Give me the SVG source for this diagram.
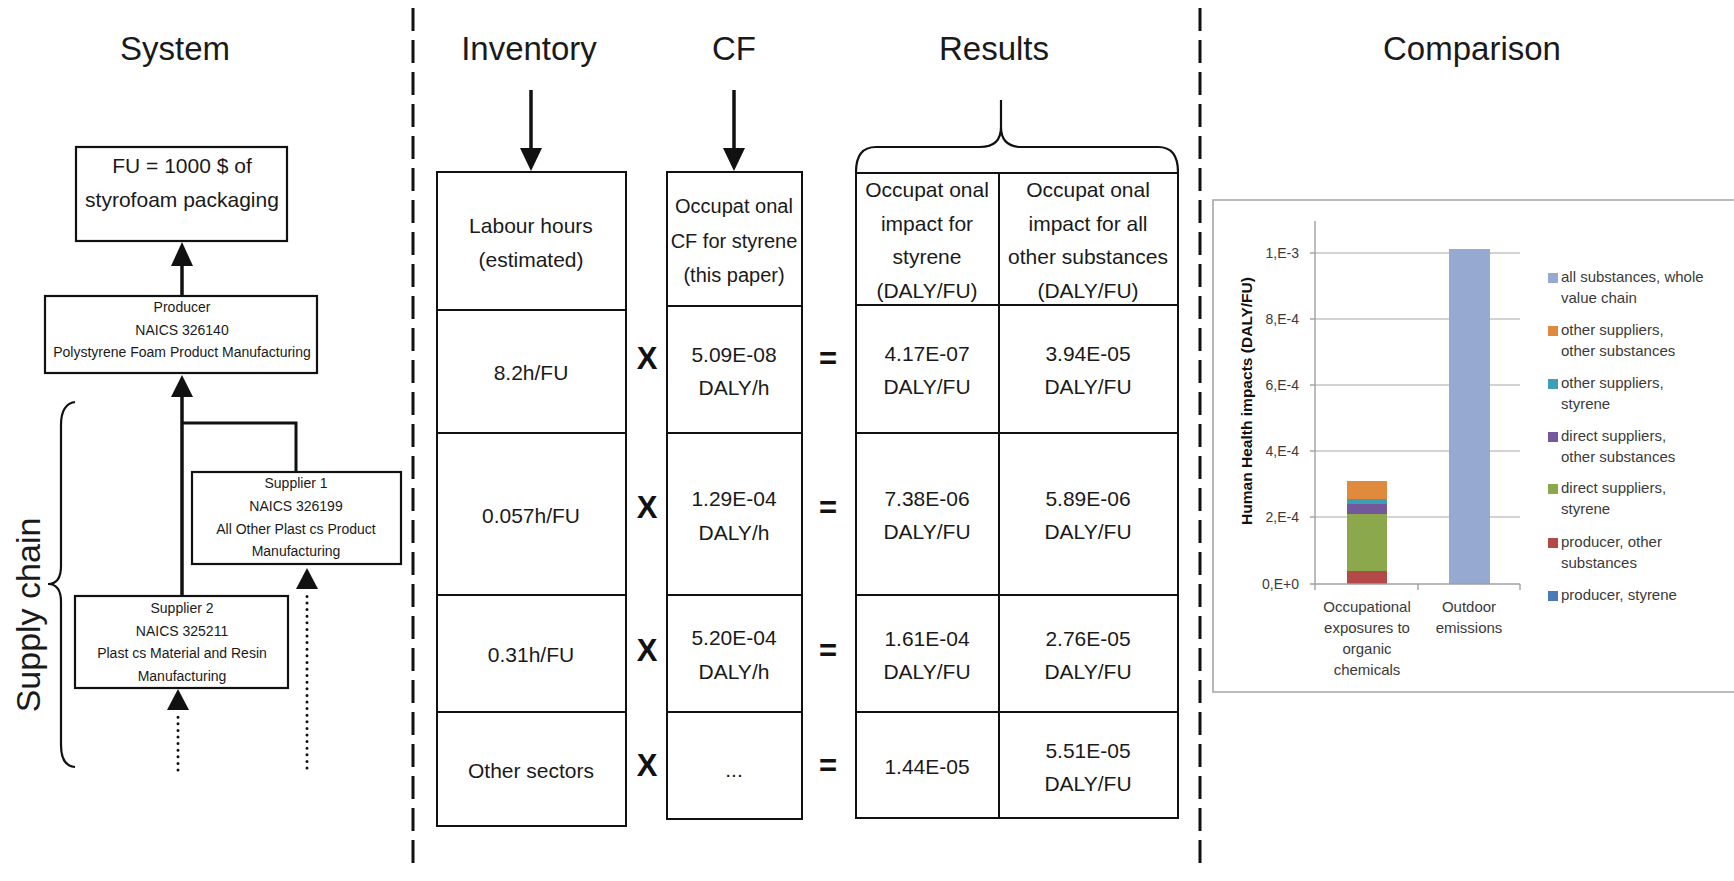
<svg xmlns="http://www.w3.org/2000/svg" width="1734" height="881" viewBox="0 0 1734 881">
  <style>
    text { font-family: "Liberation Sans", Arial, sans-serif; fill: #1a1a1a; }
    .title { font-size: 33px; text-anchor: middle; }
    .node-box { fill: #ffffff; stroke: #111111; stroke-width: 2.2; }
    .node-sm { font-size: 14px; text-anchor: middle; }
    .node-lg { font-size: 21px; text-anchor: middle; }
    .cell { font-size: 21px; text-anchor: middle; }
    .cell-n { font-size: 20px; text-anchor: middle; }
    .tbl { fill: #ffffff; stroke: #111111; stroke-width: 2; }
    .rule { stroke: #111111; stroke-width: 2; fill: none; }
    .op { font-size: 31px; font-weight: bold; text-anchor: middle; fill: #111111; }
    .flow { stroke: #111111; stroke-width: 3.5; fill: none; }
    .dotted { stroke: #111111; stroke-width: 3; stroke-dasharray: 0 6.6; stroke-linecap: round; fill: none; }
    .head { fill: #111111; }
    .brace { stroke: #111111; stroke-width: 2.2; fill: none; }
    .divider { stroke: #111111; stroke-width: 3; stroke-dasharray: 23 9; fill: none; }
    .frame { stroke: #a6a6a6; stroke-width: 1.6; fill: #ffffff; }
    .grid { stroke: #c4c4c4; stroke-width: 1.4; }
    .axis { stroke: #a0a0a0; stroke-width: 1.4; }
    .tick { font-size: 14px; text-anchor: end; fill: #3a3a3a; }
    .cat { font-size: 15px; text-anchor: middle; fill: #3a3a3a; }
    .leg { font-size: 15px; fill: #3a3a3a; }
  </style>

  <!-- section dividers -->
  <g id="dividers">
    <line class="divider" x1="413" y1="8" x2="413" y2="870"/>
    <line class="divider" x1="1200" y1="8" x2="1200" y2="870"/>
  </g>

  <!-- column titles -->
  <g id="titles">
    <text class="title" x="175" y="60">System</text>
    <text class="title" x="529" y="60">Inventory</text>
    <text class="title" x="734" y="60">CF</text>
    <text class="title" x="994" y="60">Results</text>
    <text class="title" x="1472" y="60">Comparison</text>
  </g>

  <!-- system nodes -->
  <g id="node-fu">
    <rect class="node-box" x="76" y="147" width="211" height="94"/>
    <text class="node-lg" x="182" y="173">FU = 1000 $ of</text>
    <text class="node-lg" x="182" y="207">styrofoam packaging</text>
  </g>
  <g id="node-producer">
    <rect class="node-box" x="45" y="296" width="272" height="77"/>
    <text class="node-sm" x="182" y="312">Producer</text>
    <text class="node-sm" x="182" y="335">NAICS 326140</text>
    <text class="node-sm" x="182" y="357">Polystyrene Foam Product Manufacturing</text>
  </g>
  <g id="node-supplier1">
    <rect class="node-box" x="192" y="472" width="209" height="92"/>
    <text class="node-sm" x="296" y="488">Supplier 1</text>
    <text class="node-sm" x="296" y="511">NAICS 326199</text>
    <text class="node-sm" x="296" y="534">All Other Plast cs Product</text>
    <text class="node-sm" x="296" y="556">Manufacturing</text>
  </g>
  <g id="node-supplier2">
    <rect class="node-box" x="75" y="596" width="213" height="92"/>
    <text class="node-sm" x="182" y="613">Supplier 2</text>
    <text class="node-sm" x="182" y="636">NAICS 325211</text>
    <text class="node-sm" x="182" y="658">Plast cs Material and Resin</text>
    <text class="node-sm" x="182" y="681">Manufacturing</text>
  </g>

  <!-- supply chain brace and label -->
  <g id="supply-chain">
    <path class="brace" d="M75,402 Q61,404 61,425 V566 Q61,584 48,584 Q61,584 61,602 V745 Q61,766 75,767"/>
    <text x="40" y="615" transform="rotate(-90 40 615)" style="font-size:34px;text-anchor:middle">Supply chain</text>
  </g>

  <!-- connectors -->
  <g id="connectors">
    <line class="flow" x1="182" y1="296" x2="182" y2="264"/>
    <polygon class="head" points="171,266 193,266 182,242"/>
    <line class="flow" x1="182" y1="596" x2="182" y2="395"/>
    <polygon class="head" points="171,397 193,397 182,375"/>
    <path class="flow" d="M296,472 V423 H182" style="stroke-width:3"/>
    <line class="dotted" x1="307" y1="768" x2="307" y2="592"/>
    <polygon class="head" points="296,589 318,589 307,568"/>
    <line class="dotted" x1="178" y1="770" x2="178" y2="713"/>
    <polygon class="head" points="167,710 189,710 178,689"/>
    <line class="flow" x1="531" y1="90" x2="531" y2="150"/>
    <polygon class="head" points="520,148 542,148 531,171"/>
    <line class="flow" x1="734" y1="90" x2="734" y2="150"/>
    <polygon class="head" points="723,148 745,148 734,171"/>
    <path class="brace" d="M1001,100 V127 Q1001,147 980,147 H876 Q856,147 856,172 M1001,127 Q1001,147 1022,147 H1158 Q1178,147 1178,172"/>
  </g>

  <!-- inventory table -->
  <g id="table-inventory">
    <rect class="tbl" x="437" y="172" width="189" height="654"/>
    <line class="rule" x1="437" y1="310" x2="626" y2="310"/>
    <line class="rule" x1="437" y1="433" x2="626" y2="433"/>
    <line class="rule" x1="437" y1="595" x2="626" y2="595"/>
    <line class="rule" x1="437" y1="712" x2="626" y2="712"/>
    <text class="cell" x="531" y="233">Labour hours</text>
    <text class="cell" x="531" y="267">(estimated)</text>
    <text class="cell" x="531" y="380">8.2h/FU</text>
    <text class="cell" x="531" y="523">0.057h/FU</text>
    <text class="cell" x="531" y="662">0.31h/FU</text>
    <text class="cell" x="531" y="778">Other sectors</text>
  </g>

  <!-- characterisation factor table -->
  <g id="table-cf">
    <rect class="tbl" x="667" y="172" width="135" height="647"/>
    <line class="rule" x1="667" y1="306" x2="802" y2="306"/>
    <line class="rule" x1="667" y1="433" x2="802" y2="433"/>
    <line class="rule" x1="667" y1="595" x2="802" y2="595"/>
    <line class="rule" x1="667" y1="712" x2="802" y2="712"/>
    <text class="cell-n" x="734" y="213">Occupat onal</text>
    <text class="cell-n" x="734" y="248">CF for styrene</text>
    <text class="cell-n" x="734" y="282">(this paper)</text>
    <text class="cell" x="734" y="362">5.09E-08</text>
    <text class="cell" x="734" y="395">DALY/h</text>
    <text class="cell" x="734" y="506">1.29E-04</text>
    <text class="cell" x="734" y="540">DALY/h</text>
    <text class="cell" x="734" y="645">5.20E-04</text>
    <text class="cell" x="734" y="679">DALY/h</text>
    <text class="cell" x="734" y="777">...</text>
  </g>

  <!-- operators -->
  <g id="operators">
    <text class="op" x="647" y="369">X</text>
    <text class="op" x="647" y="518">X</text>
    <text class="op" x="647" y="661">X</text>
    <text class="op" x="647" y="776">X</text>
    <text class="op" x="828" y="369">=</text>
    <text class="op" x="828" y="518">=</text>
    <text class="op" x="828" y="661">=</text>
    <text class="op" x="828" y="776">=</text>
  </g>

  <!-- results table -->
  <g id="table-results">
    <rect class="tbl" x="856" y="173" width="322" height="645"/>
    <line class="rule" x1="999" y1="173" x2="999" y2="818"/>
    <line class="rule" x1="856" y1="305" x2="1178" y2="305"/>
    <line class="rule" x1="856" y1="433" x2="1178" y2="433"/>
    <line class="rule" x1="856" y1="595" x2="1178" y2="595"/>
    <line class="rule" x1="856" y1="712" x2="1178" y2="712"/>
    <text class="cell" x="927" y="197">Occupat onal</text>
    <text class="cell" x="927" y="231">impact for</text>
    <text class="cell" x="927" y="264">styrene</text>
    <text class="cell" x="927" y="298">(DALY/FU)</text>
    <text class="cell" x="1088" y="197">Occupat onal</text>
    <text class="cell" x="1088" y="231">impact for all</text>
    <text class="cell" x="1088" y="264">other substances</text>
    <text class="cell" x="1088" y="298">(DALY/FU)</text>
    <text class="cell" x="927" y="361">4.17E-07</text>
    <text class="cell" x="927" y="394">DALY/FU</text>
    <text class="cell" x="1088" y="361">3.94E-05</text>
    <text class="cell" x="1088" y="394">DALY/FU</text>
    <text class="cell" x="927" y="506">7.38E-06</text>
    <text class="cell" x="927" y="539">DALY/FU</text>
    <text class="cell" x="1088" y="506">5.89E-06</text>
    <text class="cell" x="1088" y="539">DALY/FU</text>
    <text class="cell" x="927" y="646">1.61E-04</text>
    <text class="cell" x="927" y="679">DALY/FU</text>
    <text class="cell" x="1088" y="646">2.76E-05</text>
    <text class="cell" x="1088" y="679">DALY/FU</text>
    <text class="cell" x="927" y="774">1.44E-05</text>
    <text class="cell" x="1088" y="758">5.51E-05</text>
    <text class="cell" x="1088" y="791">DALY/FU</text>
  </g>

  <!-- comparison chart -->
  <g id="chart">
    <path class="frame" d="M1740,200 H1213 V692 H1740"/>
    <g id="gridlines">
      <line class="grid" x1="1315" y1="253" x2="1520" y2="253"/>
      <line class="grid" x1="1315" y1="319" x2="1520" y2="319"/>
      <line class="grid" x1="1315" y1="385" x2="1520" y2="385"/>
      <line class="grid" x1="1315" y1="451" x2="1520" y2="451"/>
      <line class="grid" x1="1315" y1="517" x2="1520" y2="517"/>
    </g>
    <g id="bars">
      <!-- stacked occupational bar -->
      <rect x="1347" y="571" width="40" height="13" fill="#b34a47"/>
      <rect x="1347" y="514" width="40" height="57" fill="#8ca84c"/>
      <rect x="1347" y="504" width="40" height="10" fill="#73599b"/>
      <rect x="1347" y="499" width="40" height="5" fill="#3d9fb5"/>
      <rect x="1347" y="481" width="40" height="18" fill="#e08a3d"/>
      <!-- outdoor emissions bar -->
      <rect x="1449" y="249" width="41" height="335" fill="#95a9d1"/>
    </g>
    <g id="axes">
      <line class="axis" x1="1315" y1="221" x2="1315" y2="584"/>
      <line class="axis" x1="1310" y1="584" x2="1520" y2="584"/>
      <line class="axis" x1="1310" y1="253" x2="1315" y2="253"/>
      <line class="axis" x1="1310" y1="319" x2="1315" y2="319"/>
      <line class="axis" x1="1310" y1="385" x2="1315" y2="385"/>
      <line class="axis" x1="1310" y1="451" x2="1315" y2="451"/>
      <line class="axis" x1="1310" y1="517" x2="1315" y2="517"/>
      <line class="axis" x1="1315" y1="584" x2="1315" y2="590"/>
      <line class="axis" x1="1418" y1="584" x2="1418" y2="590"/>
      <line class="axis" x1="1520" y1="584" x2="1520" y2="590"/>
    </g>
    <g id="tick-labels">
      <text class="tick" x="1299" y="258">1,E-3</text>
      <text class="tick" x="1299" y="324">8,E-4</text>
      <text class="tick" x="1299" y="390">6,E-4</text>
      <text class="tick" x="1299" y="456">4,E-4</text>
      <text class="tick" x="1299" y="522">2,E-4</text>
      <text class="tick" x="1299" y="589">0,E+0</text>
    </g>
    <text x="1252" y="401" transform="rotate(-90 1252 401)" style="font-size:14px;font-weight:bold;text-anchor:middle;fill:#111111" textLength="248" lengthAdjust="spacingAndGlyphs">Human Health impacts (DALY/FU)</text>
    <g id="category-labels">
      <text class="cat" x="1367" y="612">Occupational</text>
      <text class="cat" x="1367" y="633">exposures to</text>
      <text class="cat" x="1367" y="654">organic</text>
      <text class="cat" x="1367" y="675">chemicals</text>
      <text class="cat" x="1469" y="612">Outdoor</text>
      <text class="cat" x="1469" y="633">emissions</text>
    </g>
    <g id="legend">
      <rect x="1548" y="273" width="10" height="10" fill="#95a9d1"/>
      <text class="leg" x="1561" y="282">all substances, whole</text>
      <text class="leg" x="1561" y="303">value chain</text>
      <rect x="1548" y="326" width="10" height="10" fill="#e08a3d"/>
      <text class="leg" x="1561" y="335">other suppliers,</text>
      <text class="leg" x="1561" y="356">other substances</text>
      <rect x="1548" y="379" width="10" height="10" fill="#3d9fb5"/>
      <text class="leg" x="1561" y="388">other suppliers,</text>
      <text class="leg" x="1561" y="409">styrene</text>
      <rect x="1548" y="432" width="10" height="10" fill="#73599b"/>
      <text class="leg" x="1561" y="441">direct suppliers,</text>
      <text class="leg" x="1561" y="462">other substances</text>
      <rect x="1548" y="484" width="10" height="10" fill="#8ca84c"/>
      <text class="leg" x="1561" y="493">direct suppliers,</text>
      <text class="leg" x="1561" y="514">styrene</text>
      <rect x="1548" y="538" width="10" height="10" fill="#b34a47"/>
      <text class="leg" x="1561" y="547">producer, other</text>
      <text class="leg" x="1561" y="568">substances</text>
      <rect x="1548" y="591" width="10" height="10" fill="#4a7bb8"/>
      <text class="leg" x="1561" y="600">producer, styrene</text>
    </g>
  </g>
</svg>
